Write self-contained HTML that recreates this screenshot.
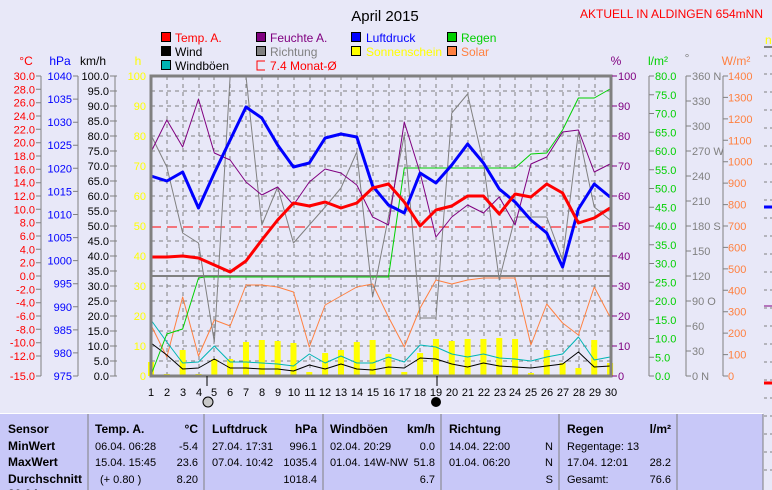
<!DOCTYPE html>
<html><head><meta charset="utf-8"><style>
html,body{margin:0;padding:0;background:#e8e8f8;width:772px;height:490px;overflow:hidden}
svg{display:block;font-family:"Liberation Sans",sans-serif}
.s{vector-effect:non-scaling-stroke;fill:none;stroke-linejoin:round}
</style></head><body>
<svg width="772" height="490" viewBox="0 0 772 490" xmlns="http://www.w3.org/2000/svg">
<rect width="772" height="490" fill="#e8e8f8"/>
<text x="385" y="21" font-size="15" text-anchor="middle" fill="#000">April 2015</text>
<text x="763" y="18" font-size="12" text-anchor="end" fill="#f00">AKTUELL IN ALDINGEN 654mNN</text>
<!-- legend -->
<g font-size="12">
<rect x="161.5" y="32.5" width="9" height="9" fill="#f00" stroke="#000"/><text x="175" y="42" fill="#f00">Temp. A.</text>
<rect x="161.5" y="46.5" width="9" height="9" fill="#000" stroke="#000"/><text x="175" y="56" fill="#000">Wind</text>
<rect x="161.5" y="60.5" width="9" height="9" fill="#00b4b4" stroke="#000"/><text x="175" y="70" fill="#000">Windböen</text>
<rect x="256.5" y="32.5" width="9" height="9" fill="#800080" stroke="#000"/><text x="270" y="42" fill="#800080">Feuchte A.</text>
<rect x="256.5" y="46.5" width="9" height="9" fill="#808080" stroke="#000"/><text x="270" y="56" fill="#808080">Richtung</text>
<path d="M265 61H257V70H265" fill="none" stroke="#f00"/><text x="270" y="70" fill="#f00">7.4 Monat-Ø</text>
<rect x="351.5" y="32.5" width="9" height="9" fill="#00f" stroke="#000"/><text x="366" y="42" fill="#00f">Luftdruck</text>
<rect x="351.5" y="46.5" width="9" height="9" fill="#ff0" stroke="#000"/><text x="366" y="56" fill="#ff0">Sonnenschein</text>
<rect x="447.5" y="32.5" width="9" height="9" fill="#00d000" stroke="#000"/><text x="461" y="42" fill="#00d000">Regen</text>
<rect x="447.5" y="46.5" width="9" height="9" fill="#ff8040" stroke="#000"/><text x="461" y="56" fill="#ff8040">Solar</text>
</g>
<!-- units -->
<g font-size="12">
<text x="26" y="65" text-anchor="middle" fill="#f00">°C</text>
<text x="60" y="65" text-anchor="middle" fill="#00f">hPa</text>
<text x="93" y="65" text-anchor="middle" fill="#000">km/h</text>
<text x="138" y="65" text-anchor="middle" fill="#ff0">h</text>
<text x="616" y="65" text-anchor="middle" fill="#800080">%</text>
<text x="658" y="65" text-anchor="middle" fill="#00d000">l/m²</text>
<text x="687" y="62" text-anchor="middle" fill="#808080">°</text>
<text x="736" y="65" text-anchor="middle" fill="#ff8040">W/m²</text>
<text x="765" y="44" fill="#ff0">ne</text>
</g>
<line x1="764" y1="47" x2="772" y2="47" stroke="#808080" stroke-width="2"/>
<!-- grid -->
<g stroke="#808080" stroke-dasharray="4,4" stroke-width="1">
<path d="M151 91H611M151 106H611M151 121H611M151 136H611M151 151H611M151 166H611M151 181H611M151 196H611M151 211H611M151 241H611M151 256H611M151 271H611M151 286H611M151 301H611M151 316H611M151 331H611M151 346H611M151 361H611"/>
<path d="M167 76V376M183 76V376M199 76V376M214 76V376M230 76V376M246 76V376M262 76V376M278 76V376M294 76V376M310 76V376M325 76V376M341 76V376M357 76V376M373 76V376M389 76V376M405 76V376M420 76V376M436 76V376M452 76V376M468 76V376M484 76V376M500 76V376M515 76V376M531 76V376M547 76V376M563 76V376M579 76V376M595 76V376"/>
</g>
<line x1="151" y1="276" x2="611" y2="276" stroke="#808080" stroke-width="2"/>
<line x1="151" y1="227" x2="611" y2="227" stroke="#f00" stroke-dasharray="10,6"/>
<!-- series -->
<g transform="translate(135.17,0) scale(15.83,1)">
<g fill="#ff0">
<rect x="0.81" y="362" width="0.38" height="14"/><rect x="1.81" y="374" width="0.38" height="2"/><rect x="2.81" y="350" width="0.38" height="26"/><rect x="3.81" y="374" width="0.38" height="2"/><rect x="4.81" y="359" width="0.38" height="17"/><rect x="5.81" y="359" width="0.38" height="17"/><rect x="6.81" y="342" width="0.38" height="34"/><rect x="7.81" y="340" width="0.38" height="36"/><rect x="8.81" y="341" width="0.38" height="35"/><rect x="9.81" y="343" width="0.38" height="33"/><rect x="10.81" y="372" width="0.38" height="4"/><rect x="11.81" y="353" width="0.38" height="23"/><rect x="12.81" y="350" width="0.38" height="26"/><rect x="13.81" y="342" width="0.38" height="34"/><rect x="14.81" y="340" width="0.38" height="36"/><rect x="15.81" y="354" width="0.38" height="22"/><rect x="16.81" y="372" width="0.38" height="4"/><rect x="17.81" y="353" width="0.38" height="23"/><rect x="18.81" y="339" width="0.38" height="37"/><rect x="19.81" y="341" width="0.38" height="35"/><rect x="20.81" y="339" width="0.38" height="37"/><rect x="21.81" y="339" width="0.38" height="37"/><rect x="22.81" y="338" width="0.38" height="38"/><rect x="23.81" y="339" width="0.38" height="37"/><rect x="24.81" y="373" width="0.38" height="3"/><rect x="25.81" y="350" width="0.38" height="26"/><rect x="26.81" y="363" width="0.38" height="13"/><rect x="27.81" y="368" width="0.38" height="8"/><rect x="28.81" y="340" width="0.38" height="36"/><rect x="29.81" y="363" width="0.38" height="13"/>
</g>
<polyline class="s" stroke="#ff8040" stroke-width="1" points="1,325 2,357 3,297 4,356 5,320 6,326 7,285 8,285 9,287 10,292 11,347 12,305 13,296 14,287 15,284 16,317 17,347 18,308 19,280 20,284 21,280 22,278 23,278 24,278 25,345 26,304 27,323 28,335 29,287 30,317"/>
<polyline class="s" stroke="#00b4b4" stroke-width="1" points="1,320 2,342 3,363 4,362 5,346 6,362 7,362 8,363 9,364 10,366 11,354 12,363 13,356 14,363 15,363 16,357 17,362 18,345 19,347 20,354 21,357 22,354 23,358 24,359 25,361 26,357 27,354 28,337 29,360 30,357"/>
<polyline class="s" stroke="#000" stroke-width="1" points="1,343 2,355 3,369 4,368 5,359 6,368 7,368 8,369 9,369 10,371 11,365 12,369 13,364 14,369 15,370 16,367 17,368 18,358 19,359 20,364 21,367 22,363 23,366 24,367 25,368 26,366 27,364 28,352 29,367 30,366"/>
<polyline class="s" stroke="#00d000" stroke-width="1" points="1,375 2,334 3,329 4,278 4.4,277 16,277 17,168 24,168 25,154 26,153 27,130 28,98 29,98 30,89"/>
<polyline class="s" stroke="#808080" stroke-width="1" points="1,135 2,167 3,233 4,243 5,342 6,76 7,76 8,225 9,187 10,243 11,225 12,207 13,188 14,152 15,297 16,217 17,135 18,318 19,318 20,113 21,94 22,163 23,280 24,217 25,217 26,217 27,260 28,132 29,207 30,220"/>
<polyline class="s" stroke="#800080" stroke-width="1" points="1,152 2,120 3,147 4,99 5,153 6,160 7,182 8,195 9,187 10,205 11,182 12,169 13,173 14,185 15,217 16,225 17,122 18,173 19,237 20,217 21,205 22,213 23,197 24,225 25,164 26,157 27,132 28,130 29,172 30,164"/>
<polyline class="s" stroke="#00f" stroke-width="3" points="1,176 2,181 3,172 4,208 5,173 6,140 7,107 8,118 9,145 10,167 11,163 12,138 13,134 14,137 15,186 16,205 17,213 18,173 19,183 20,165 21,144 22,163 23,189 24,202 25,220 26,233 27,267 28,209 29,184 30,197"/>
<polyline class="s" stroke="#f00" stroke-width="3" points="1,257 2,257 3,256 4,258 5,265 6,272 7,261 8,240 9,220 10,203 11,206 12,202 13,208 14,203 15,188 16,184 17,202 18,226 19,210 20,206 21,196 22,196 23,214 24,194 25,197 26,184 27,193 28,223 29,218 30,208"/>
</g>
<rect x="151" y="76" width="460" height="300" fill="none" stroke="#808080" stroke-width="3"/>
<!-- left axes -->
<g stroke="#808080" fill="none">
<path d="M41 76V376M78 76V376M115 76V376"/>
<path d="M36 76H41M36 89.3H41M36 102.7H41M36 116H41M36 129.3H41M36 142.7H41M36 156H41M36 169.3H41M36 182.7H41M36 196H41M36 209.3H41M36 222.7H41M36 236H41M36 249.3H41M36 262.7H41M36 276H41M36 289.3H41M36 302.7H41M36 316H41M36 329.3H41M36 342.7H41M36 356H41M36 376H41"/>
<path d="M73 76H78M73 99.1H78M73 122.2H78M73 145.2H78M73 168.3H78M73 191.4H78M73 214.5H78M73 237.6H78M73 260.6H78M73 283.7H78M73 306.8H78M73 329.9H78M73 352.9H78M73 376H78"/>
<path d="M110 76H117M110 91H117M110 106H117M110 121H117M110 136H117M110 151H117M110 166H117M110 181H117M110 196H117M110 211H117M110 226H117M110 241H117M110 256H117M110 271H117M110 286H117M110 301H117M110 316H117M110 331H117M110 346H117M110 361H117M110 376H117"/>
<path d="M649 76V376M686 76V376M723 76V376"/>
<path d="M649 76H654M649 94.75H654M649 113.5H654M649 132.25H654M649 151H654M649 169.75H654M649 188.5H654M649 207.25H654M649 226H654M649 244.75H654M649 263.5H654M649 282.25H654M649 301H654M649 319.75H654M649 338.5H654M649 357.25H654M649 376H654"/>
<path d="M686 76H691M686 101H691M686 126H691M686 151H691M686 176H691M686 201H691M686 226H691M686 251H691M686 276H691M686 301H691M686 326H691M686 351H691M686 376H691"/>
<path d="M723 76H728M723 97.4H728M723 118.9H728M723 140.3H728M723 161.7H728M723 183.1H728M723 204.6H728M723 226H728M723 247.4H728M723 268.9H728M723 290.3H728M723 311.7H728M723 333.1H728M723 354.6H728M723 376H728"/>
<path d="M612 76H617M612 106H617M612 136H617M612 166H617M612 196H617M612 226H617M612 256H617M612 286H617M612 316H617M612 346H617M612 376H617" stroke="#800080"/>
<path d="M764 56H772M764 74H772M764 92H772M764 110H772M764 128H772M764 146H772M764 164H772M764 182H772M764 200H772M764 218H772M764 236H772M764 254H772M764 272H772M764 290H772M764 308H772M764 326H772M764 344H772M764 362H772M764 380H772M764 398H772M764 416H772M764 434H772M764 452H772M764 470H772" stroke-dasharray="3,3"/>
</g>
<g font-size="11" text-anchor="end" fill="#f00">
<text x="35" y="80">30.0</text><text x="35" y="93.3">28.0</text><text x="35" y="106.7">26.0</text><text x="35" y="120">24.0</text><text x="35" y="133.3">22.0</text><text x="35" y="146.7">20.0</text><text x="35" y="160">18.0</text><text x="35" y="173.3">16.0</text><text x="35" y="186.7">14.0</text><text x="35" y="200">12.0</text><text x="35" y="213.3">10.0</text><text x="35" y="226.7">8.0</text><text x="35" y="240">6.0</text><text x="35" y="253.3">4.0</text><text x="35" y="266.7">2.0</text><text x="35" y="280">0.0</text><text x="35" y="293.3">-2.0</text><text x="35" y="306.7">-4.0</text><text x="35" y="320">-6.0</text><text x="35" y="333.3">-8.0</text><text x="35" y="346.7">-10.0</text><text x="35" y="360">-12.0</text><text x="35" y="380">-15.0</text>
</g>
<g font-size="11" text-anchor="end" fill="#00f">
<text x="72" y="80">1040</text><text x="72" y="103.1">1035</text><text x="72" y="126.2">1030</text><text x="72" y="149.2">1025</text><text x="72" y="172.3">1020</text><text x="72" y="195.4">1015</text><text x="72" y="218.5">1010</text><text x="72" y="241.6">1005</text><text x="72" y="264.6">1000</text><text x="72" y="287.7">995</text><text x="72" y="310.8">990</text><text x="72" y="333.9">985</text><text x="72" y="356.9">980</text><text x="72" y="380">975</text>
</g>
<g font-size="11" text-anchor="end" fill="#000">
<text x="109" y="80">100.0</text><text x="109" y="95">95.0</text><text x="109" y="110">90.0</text><text x="109" y="125">85.0</text><text x="109" y="140">80.0</text><text x="109" y="155">75.0</text><text x="109" y="170">70.0</text><text x="109" y="185">65.0</text><text x="109" y="200">60.0</text><text x="109" y="215">55.0</text><text x="109" y="230">50.0</text><text x="109" y="245">45.0</text><text x="109" y="260">40.0</text><text x="109" y="275">35.0</text><text x="109" y="290">30.0</text><text x="109" y="305">25.0</text><text x="109" y="320">20.0</text><text x="109" y="335">15.0</text><text x="109" y="350">10.0</text><text x="109" y="365">5.0</text><text x="109" y="380">0.0</text>
</g>
<g font-size="11" text-anchor="end" fill="#ff0">
<text x="146" y="80">100</text><text x="146" y="110">90</text><text x="146" y="140">80</text><text x="146" y="170">70</text><text x="146" y="200">60</text><text x="146" y="230">50</text><text x="146" y="260">40</text><text x="146" y="290">30</text><text x="146" y="320">20</text><text x="146" y="350">10</text><text x="146" y="380">0</text>
</g>
<g font-size="11" fill="#800080">
<text x="618" y="80">100</text><text x="618" y="110">90</text><text x="618" y="140">80</text><text x="618" y="170">70</text><text x="618" y="200">60</text><text x="618" y="230">50</text><text x="618" y="260">40</text><text x="618" y="290">30</text><text x="618" y="320">20</text><text x="618" y="350">10</text><text x="618" y="380">0</text>
</g>
<g font-size="11" fill="#00d000">
<text x="655" y="80">80.0</text><text x="655" y="98.75">75.0</text><text x="655" y="117.5">70.0</text><text x="655" y="136.25">65.0</text><text x="655" y="155">60.0</text><text x="655" y="173.75">55.0</text><text x="655" y="192.5">50.0</text><text x="655" y="211.25">45.0</text><text x="655" y="230">40.0</text><text x="655" y="248.75">35.0</text><text x="655" y="267.5">30.0</text><text x="655" y="286.25">25.0</text><text x="655" y="305">20.0</text><text x="655" y="323.75">15.0</text><text x="655" y="342.5">10.0</text><text x="655" y="361.25">5.0</text><text x="655" y="380">0.0</text>
</g>
<g font-size="11" fill="#808080">
<text x="692" y="80">360 N</text><text x="692" y="105">330</text><text x="692" y="130">300</text><text x="692" y="155">270 W</text><text x="692" y="180">240</text><text x="692" y="205">210</text><text x="692" y="230">180 S</text><text x="692" y="255">150</text><text x="692" y="280">120</text><text x="692" y="305">90 O</text><text x="692" y="330">60</text><text x="692" y="355">30</text><text x="692" y="380">0 N</text>
</g>
<g font-size="11" fill="#ff8040">
<text x="728" y="80">1400</text><text x="728" y="101.4">1300</text><text x="728" y="122.9">1200</text><text x="728" y="144.3">1100</text><text x="728" y="165.7">1000</text><text x="728" y="187.1">900</text><text x="728" y="208.6">800</text><text x="728" y="230">700</text><text x="728" y="251.4">600</text><text x="728" y="272.9">500</text><text x="728" y="294.3">400</text><text x="728" y="315.7">300</text><text x="728" y="337.1">200</text><text x="728" y="358.6">100</text><text x="728" y="380">0</text>
</g>
<!-- right edge fragments -->
<path d="M764 207H772" stroke="#00f" stroke-width="3"/>
<path d="M764 306H772" stroke="#800080"/>
<path d="M764 383H772" stroke="#f00" stroke-width="3"/>
<!-- day labels -->
<g font-size="11" text-anchor="middle" fill="#000">
<text x="151" y="396">1</text><text x="167" y="396">2</text><text x="183" y="396">3</text><text x="199" y="396">4</text><text x="214" y="396">5</text><text x="230" y="396">6</text><text x="246" y="396">7</text><text x="262" y="396">8</text><text x="278" y="396">9</text><text x="294" y="396">10</text><text x="310" y="396">11</text><text x="325" y="396">12</text><text x="341" y="396">13</text><text x="357" y="396">14</text><text x="373" y="396">15</text><text x="389" y="396">16</text><text x="405" y="396">17</text><text x="420" y="396">18</text><text x="436" y="396">19</text><text x="452" y="396">20</text><text x="468" y="396">21</text><text x="484" y="396">22</text><text x="500" y="396">23</text><text x="515" y="396">24</text><text x="531" y="396">25</text><text x="547" y="396">26</text><text x="563" y="396">27</text><text x="579" y="396">28</text><text x="595" y="396">29</text><text x="611" y="396">30</text>
</g>
<path d="M207 376V386M437 376V386" stroke="#000"/>
<circle cx="208" cy="402" r="5" fill="#c8c8c8" stroke="#000"/>
<circle cx="436" cy="402" r="5" fill="#000"/>
<!-- table -->
<rect x="0" y="414" width="763" height="76" fill="#c8c8f8"/>
<path d="M0 413.5H763" stroke="#fff"/>
<path d="M88 414V490M204 414V490M323 414V490M441 414V490M559 414V490M677 414V490M763 414V490" stroke="#808080"/>
<g font-size="12" font-weight="bold" fill="#000">
<text x="8" y="433">Sensor</text><text x="8" y="450">MinWert</text><text x="8" y="466">MaxWert</text><text x="8" y="483">Durchschnitt</text><text x="8" y="498">20.04</text>
<text x="95" y="433">Temp. A.</text><text x="198" y="433" text-anchor="end">°C</text>
<text x="212" y="433">Luftdruck</text><text x="317" y="433" text-anchor="end">hPa</text>
<text x="330" y="433">Windböen</text><text x="435" y="433" text-anchor="end">km/h</text>
<text x="449" y="433">Richtung</text>
<text x="567" y="433">Regen</text><text x="671" y="433" text-anchor="end">l/m²</text>
</g>
<g font-size="11" fill="#000">
<text x="95" y="450">06.04.  06:28</text><text x="198" y="450" text-anchor="end">-5.4</text>
<text x="95" y="466">15.04.  15:45</text><text x="198" y="466" text-anchor="end">23.6</text>
<text x="100" y="483">(+ 0.80 )</text><text x="198" y="483" text-anchor="end">8.20</text>
<text x="212" y="450">27.04.  17:31</text><text x="317" y="450" text-anchor="end">996.1</text>
<text x="212" y="466">07.04.  10:42</text><text x="317" y="466" text-anchor="end">1035.4</text>
<text x="317" y="483" text-anchor="end">1018.4</text>
<text x="330" y="450">02.04.  20:29</text><text x="435" y="450" text-anchor="end">0.0</text>
<text x="330" y="466">01.04.  14W-NW</text><text x="435" y="466" text-anchor="end">51.8</text>
<text x="435" y="483" text-anchor="end">6.7</text>
<text x="449" y="450">14.04.  22:00</text><text x="553" y="450" text-anchor="end">N</text>
<text x="449" y="466">01.04.  06:20</text><text x="553" y="466" text-anchor="end">N</text>
<text x="553" y="483" text-anchor="end">S</text>
<text x="567" y="450">Regentage: 13</text>
<text x="567" y="466">17.04.  12:01</text><text x="671" y="466" text-anchor="end">28.2</text>
<text x="567" y="483">Gesamt:</text><text x="671" y="483" text-anchor="end">76.6</text>
</g>
</svg>
</body></html>
